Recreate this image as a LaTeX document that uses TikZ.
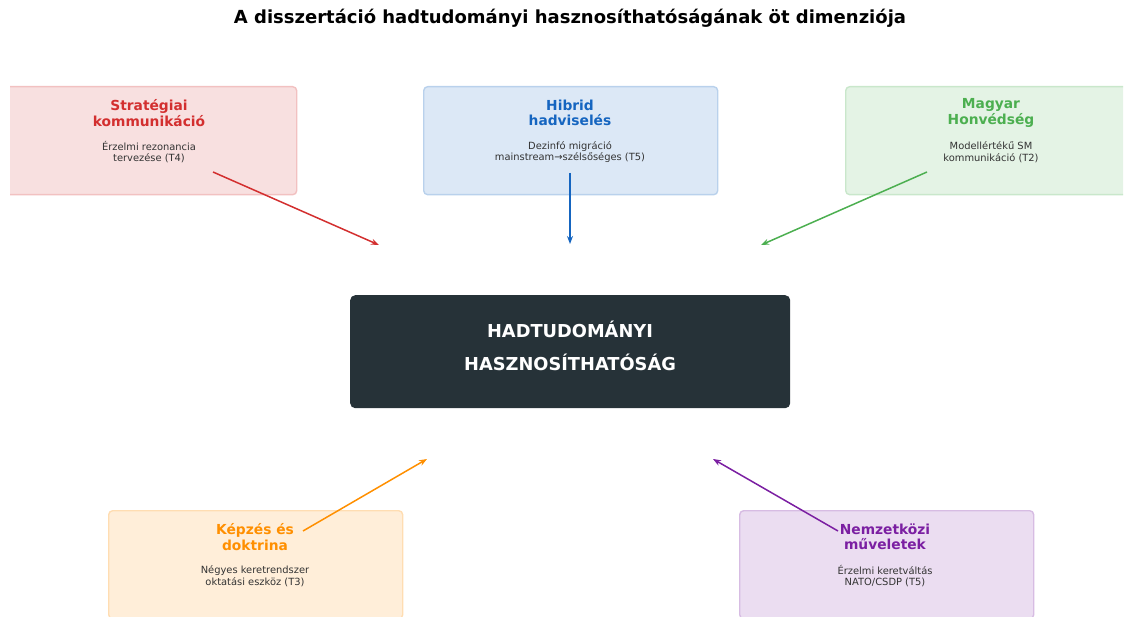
\documentclass[tikz,border=0pt]{standalone}
\usepackage{fontspec}
\setmainfont{DejaVu Sans}
\usetikzlibrary{arrows.meta}
\definecolor{cred}{HTML}{D32F2F}
\definecolor{cblue}{HTML}{1565C0}
\definecolor{cgreen}{HTML}{4CAF50}
\definecolor{corange}{HTML}{FF8F00}
\definecolor{cpurple}{HTML}{7B1FA2}
\definecolor{cdark}{HTML}{263238}
\definecolor{csub}{HTML}{333333}
\tikzset{
  dimbox/.style={draw=#1!30, fill=#1!15, line width=1.4pt, rounded corners=4pt, minimum width=294pt, minimum height=108pt, inner sep=0pt},
  dimtitle/.style={text=#1, font=\fontsize{13.8}{15.5}\selectfont\bfseries, align=center, inner sep=0pt},
  dimsub/.style={text=csub, font=\fontsize{9.9}{11.5}\selectfont, align=center, inner sep=0pt},
  arr/.style={draw=#1, line width=1.5pt, -{Stealth[length=8pt,width=6pt]}},
}
\begin{document}
\begin{tikzpicture}[x=1pt,y=-1pt]
\useasboundingbox (0,0) rectangle (1125,617);
\clip (10,0) rectangle (1123,617);
\node[font=\fontsize{18}{20}\selectfont\bfseries, inner sep=0pt] (title) at (570,18) {A disszertáció hadtudományi hasznosíthatóságának öt dimenziója};

% boxes
\node[dimbox=cred, anchor=north west] (b1) at (2,86) {};
\node[dimbox=cblue, anchor=north west] (b2) at (423,86) {};
\node[dimbox=cgreen, anchor=north west] (b3) at (845,86) {};
\node[dimbox=corange, anchor=north west] (b4) at (108,510) {};
\node[dimbox=cpurple, anchor=north west] (b5) at (739,510) {};

\node[dimtitle=cred] (t1) at (149,113) {Stratégiai\\kommunikáció};
\node[dimsub] (s1) at (149,152) {Érzelmi rezonancia\\tervezése (T4)};
\node[dimtitle=cblue] (t2) at (570,113) {Hibrid\\hadviselés};
\node[dimsub] (s2) at (570,152) {Dezinfó migráció\\mainstream→szélsőséges (T5)};
\node[dimtitle=cgreen] (t3) at (991,113) {Magyar\\Honvédség};
\node[dimsub] (s3) at (991,152) {Modellértékű SM\\kommunikáció (T2)};
\node[dimtitle=corange] (t4) at (255,537) {Képzés és\\doktrina};
\node[dimsub] (s4) at (255,576) {Négyes keretrendszer\\oktatási eszköz (T3)};
\node[dimtitle=cpurple] (t5) at (885,537) {Nemzetközi\\műveletek};
\node[dimsub] (s5) at (885,576) {Érzelmi keretváltás\\NATO/CSDP (T5)};

% center
\node[fill=cdark, rounded corners=5pt, minimum width=440pt, minimum height=113pt, inner sep=0pt, anchor=north west] (c) at (350,295) {};
\node[text=white, font=\fontsize{17.8}{33}\selectfont\bfseries, align=center, inner sep=0pt] (ct) at (570,346) {HADTUDOMÁNYI\\HASZNOSÍTHATÓSÁG};

% arrow endpoints
\coordinate (a1s) at (213,172); \coordinate (a1e) at (379,245);
\coordinate (a2s) at (570,173); \coordinate (a2e) at (570,244);
\coordinate (a3s) at (927,172); \coordinate (a3e) at (761,245);
\coordinate (a4s) at (303,531); \coordinate (a4e) at (427,459);
\coordinate (a5s) at (838,531); \coordinate (a5e) at (713,459);
\draw[arr=cred] (a1s) -- (a1e);
\draw[arr=cblue] (a2s) -- (a2e);
\draw[arr=cgreen] (a3s) -- (a3e);
\draw[arr=corange] (a4s) -- (a4e);
\draw[arr=cpurple] (a5s) -- (a5e);
\end{tikzpicture}
\end{document}
